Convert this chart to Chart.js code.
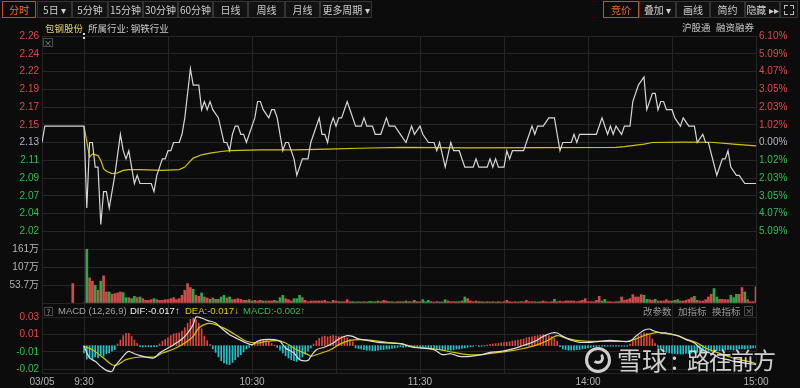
<!DOCTYPE html>
<html>
<head>
<meta charset="utf-8">
<script src="https://cdn.jsdelivr.net/npm/chart.js@4.4.1/dist/chart.umd.min.js"></script>
<style>
  html, body { margin: 0; padding: 0; background: #0c0c0c; }
  #wrap { position: relative; width: 800px; height: 388px; overflow: hidden; background: #0c0c0c;
          font-family: "Noto Sans CJK SC", "Liberation Sans", sans-serif; }
  canvas { position: absolute; left: 0; top: 0; }
  .btn { position: absolute; top: 1px; height: 17px; line-height: 15px; box-sizing: border-box;
         border: 1px solid #343434; background: #121212; color: #cfcfcf; font-size: 10px; text-align: center; }
  .btn.on { border-color: #c4531e; color: #ea6a2c; background: #0c0c0c; }
  .t { position: absolute; font-size: 9.5px; line-height: 12px; white-space: nowrap; }
  .box { position: absolute; box-sizing: border-box; border: 1px solid #4a4a4a; color: #9a9a9a;
         font-size: 8px; line-height: 7px; text-align: center; }
</style>
</head>
<body>
<div id="wrap">
  <canvas id="price-chart" width="800" height="388"></canvas>
  <canvas id="volume-chart" width="800" height="388"></canvas>
  <canvas id="macd-chart" width="800" height="388"></canvas>

  <!-- toolbar -->
  <div class="btn on" style="left:2px;width:34px">分时</div>
  <div class="btn" style="left:37px;width:35px">5日 ▾</div>
  <div class="btn" style="left:72px;width:36px">5分钟</div>
  <div class="btn" style="left:108px;width:35px">15分钟</div>
  <div class="btn" style="left:143px;width:35px">30分钟</div>
  <div class="btn" style="left:178px;width:35px">60分钟</div>
  <div class="btn" style="left:213px;width:35px">日线</div>
  <div class="btn" style="left:248px;width:37px">周线</div>
  <div class="btn" style="left:285px;width:35px">月线</div>
  <div class="btn" style="left:320px;width:52px">更多周期 ▾</div>

  <div class="btn on" style="left:603px;width:36px">竞价</div>
  <div class="btn" style="left:639px;width:37px">叠加 ▾</div>
  <div class="btn" style="left:676px;width:34px">画线</div>
  <div class="btn" style="left:710px;width:35px">简约</div>
  <div class="btn" style="left:745px;width:35px">隐藏 ▸▸</div>
  <div class="btn" style="left:780px;width:18px"></div>
  <div style="position:absolute;left:784px;top:5px;width:3px;height:3px;border-left:1px solid #bbb;border-top:1px solid #bbb"></div>
  <div style="position:absolute;left:790px;top:5px;width:3px;height:3px;border-right:1px solid #bbb;border-top:1px solid #bbb"></div>
  <div style="position:absolute;left:784px;top:11px;width:3px;height:3px;border-left:1px solid #bbb;border-bottom:1px solid #bbb"></div>
  <div style="position:absolute;left:790px;top:11px;width:3px;height:3px;border-right:1px solid #bbb;border-bottom:1px solid #bbb"></div>

  <!-- header row -->
  <div class="t" style="left:45px;top:22px;color:#e2d46a">包钢股份</div>
  <div class="t" style="left:88px;top:22px;color:#c8c8c8">所属行业: 钢铁行业</div>
  <div class="t" style="left:682px;top:21px;color:#c8c8c8">沪股通</div>
  <div class="t" style="left:716px;top:21px;color:#c8c8c8">融资融券</div>
  <div class="box" style="left:43px;top:38px;width:10px;height:9px">×</div>
  <div style="position:absolute;left:83px;top:33px;width:1px;height:6px;border-left:2px dotted #dcdcdc"></div>

  <!-- MACD header -->
  <div class="box" style="left:44px;top:307px;width:9px;height:9px">?</div>
  <div class="t" style="left:58px;top:305px;color:#a4a4a4;font-family:'Liberation Sans'">MACD (12,26,9)</div>
  <div class="t" style="left:130px;top:305px;color:#f0f0f0;font-family:'Liberation Sans'">DIF:-0.017↑</div>
  <div class="t" style="left:185px;top:305px;color:#e0d000;font-family:'Liberation Sans'">DEA:-0.017↓</div>
  <div class="t" style="left:243px;top:305px;color:#2fbf50;font-family:'Liberation Sans'">MACD:-0.002↑</div>
  <div class="t" style="left:643px;top:305px;color:#9a9a9a">改参数</div>
  <div class="t" style="left:678px;top:305px;color:#9a9a9a">加指标</div>
  <div class="t" style="left:712px;top:305px;color:#9a9a9a">换指标</div>
  <div class="box" style="left:744px;top:306px;width:9px;height:10px">×</div>

  <!-- watermark -->
  <div style="position:absolute;left:585px;top:347px;width:26px;height:26px;border-radius:50%;box-sizing:border-box;border:3px solid rgba(228,228,228,0.9)"></div>
  <div style="position:absolute;left:592px;top:352px;width:12px;height:12px;border-radius:50%;box-sizing:border-box;border:3px solid rgba(228,228,228,0.9);border-top-color:transparent;border-left-color:transparent"></div>
  <div class="t" style="left:617px;top:344px;font-size:25px;line-height:30px;color:rgba(230,230,230,0.9)">雪球</div>
  <div class="t" style="left:671px;top:344px;font-size:25px;line-height:30px;color:rgba(230,230,230,0.9)">:</div>
  <div class="t" style="left:687px;top:344px;font-size:23px;line-height:30px;letter-spacing:-1px;color:rgba(230,230,230,0.9)">路往前方</div>
</div>

<script>
// ---- data (x = trading minutes since 9:30, auction before 0) ----
const preClose = 2.13;
const pctStep = 0.061 / 6;

const priceLabels = ['2.26', '2.24', '2.22', '2.19', '2.17', '2.15', '2.13', '2.11', '2.09', '2.07', '2.04', '2.02'];
const pctLabels = ['6.10%', '5.09%', '4.07%', '3.05%', '2.03%', '1.02%', '0.00%', '1.02%', '2.03%', '3.05%', '4.07%', '5.09%'];
const volTickLabels = ['161万', '107万', '53.7万'];
const volMax = 161;
const macdTickValues = [-0.0210, -0.0055, 0.0100, 0.0255];
const macdTickLabels = ['-0.02', '-0.01', '0.01', '0.03'];
const timeTicks = [-15, 0, 60, 120, 180, 240];
const timeLabels = ['03/05', '9:30', '10:30', '11:30', '14:00', '15:00'];
const gridMinutes = [-15, 0, 30, 60, 90, 120, 150, 180, 210, 240];

const priceTimes = [
  -15, -14, 0, 1, 2, 3, 4, 5, 6, 7,
  8, 9, 11, 13, 14, 15, 16, 17, 18, 19,
  20, 24, 25, 26, 27, 28, 29, 30, 31, 32,
  34, 35, 36, 37, 38, 39, 41, 42, 43, 44,
  45, 46, 48, 50, 51, 52, 53, 54, 55, 56,
  57, 58, 59, 61, 62, 63, 64, 66, 67, 68,
  69, 71, 72, 73, 75, 76, 77, 78, 80, 81,
  84, 85, 86, 87, 88, 89, 90, 91, 92, 94,
  95, 97, 99, 100, 101, 103, 104, 106, 108, 109,
  111, 113, 115, 117, 118, 120, 121, 123, 125, 126,
  127, 129, 131, 132, 134, 136, 139, 140, 141, 144,
  145, 146, 147, 148, 150, 151, 152, 153, 157, 159,
  160, 161, 162, 164, 166, 168, 170, 171, 174, 175,
  176, 177, 183, 185, 187, 188, 189, 190, 192, 193,
  195, 196, 198, 200, 201, 203, 204, 205, 206, 207,
  208, 210, 211, 213, 214, 216, 218, 219, 221, 222,
  223, 226, 228, 229, 230, 231, 233, 234, 236, 240
];
const priceValues = [
  2.13, 2.15, 2.15, 2.05, 2.13, 2.13, 2.10, 2.10, 2.03, 2.07,
  2.07, 2.05, 2.09, 2.14, 2.12, 2.11, 2.12, 2.10, 2.08, 2.09,
  2.08, 2.08, 2.07, 2.09, 2.10, 2.11, 2.11, 2.12, 2.12, 2.13,
  2.13, 2.14, 2.16, 2.19, 2.22, 2.20, 2.20, 2.17, 2.18, 2.17,
  2.18, 2.17, 2.16, 2.13, 2.13, 2.12, 2.14, 2.15, 2.15, 2.14,
  2.14, 2.13, 2.14, 2.16, 2.18, 2.18, 2.17, 2.16, 2.17, 2.17,
  2.16, 2.12, 2.13, 2.13, 2.11, 2.09, 2.10, 2.11, 2.11, 2.13,
  2.16, 2.14, 2.14, 2.13, 2.15, 2.16, 2.15, 2.16, 2.16, 2.18,
  2.17, 2.15, 2.15, 2.16, 2.15, 2.15, 2.14, 2.14, 2.16, 2.15,
  2.15, 2.14, 2.13, 2.15, 2.14, 2.15, 2.14, 2.13, 2.13, 2.12,
  2.13, 2.10, 2.13, 2.12, 2.12, 2.10, 2.10, 2.11, 2.10, 2.10,
  2.11, 2.10, 2.11, 2.10, 2.10, 2.12, 2.11, 2.12, 2.12, 2.14,
  2.15, 2.14, 2.15, 2.15, 2.16, 2.16, 2.12, 2.13, 2.13, 2.14,
  2.13, 2.14, 2.14, 2.16, 2.14, 2.15, 2.14, 2.15, 2.14, 2.15,
  2.15, 2.18, 2.20, 2.21, 2.17, 2.19, 2.19, 2.17, 2.18, 2.18,
  2.17, 2.17, 2.16, 2.15, 2.16, 2.15, 2.15, 2.13, 2.14, 2.13,
  2.13, 2.09, 2.11, 2.11, 2.12, 2.10, 2.09, 2.09, 2.08, 2.08
];

const avgTimes = [0, 2, 3, 5, 6, 7, 8, 10, 12, 14, 16, 20, 28, 34, 36, 37, 39, 42, 45, 49,
  52, 63, 75, 87, 98, 114, 137, 190, 193, 200, 203, 214, 224, 232, 240];
const avgValues = [2.150, 2.112, 2.116, 2.114, 2.108, 2.098, 2.095, 2.092, 2.093, 2.096,
  2.097, 2.097, 2.096, 2.097, 2.100, 2.104, 2.111, 2.115, 2.117, 2.119,
  2.120, 2.121, 2.121, 2.122, 2.123, 2.124, 2.1235, 2.124, 2.125, 2.128,
  2.130, 2.1305, 2.1303, 2.128, 2.126];

// volume in 万 per minute 0..240, R = up bar, G = down bar
const auctionVolTime = -4;
const auctionVol = 58;
const volumes = [
  0, 161, 75, 65, 53, 38, 65, 81, 33, 33,
  26, 28, 30, 33, 31, 16, 16, 13, 20, 16,
  18, 13, 8, 8, 10, 13, 10, 8, 8, 10,
  10, 13, 16, 10, 13, 23, 38, 58, 46, 41,
  23, 20, 30, 18, 15, 11, 15, 11, 11, 18,
  23, 15, 18, 10, 11, 13, 11, 8, 8, 10,
  6, 8, 6, 8, 6, 6, 6, 6, 8, 6,
  16, 23, 13, 10, 6, 13, 13, 23, 16, 8,
  4, 6, 6, 6, 6, 6, 8, 4, 3, 8,
  6, 4, 4, 4, 10, 4, 4, 3, 4, 3,
  4, 3, 5, 4, 4, 6, 4, 8, 6, 4,
  4, 3, 4, 4, 4, 6, 4, 4, 8, 4,
  4, 10, 4, 8, 4, 3, 4, 3, 3, 10,
  6, 4, 4, 4, 4, 6, 18, 13, 6, 4,
  6, 4, 4, 3, 4, 3, 4, 3, 4, 3,
  4, 8, 4, 3, 4, 3, 4, 4, 8, 4,
  4, 4, 3, 4, 6, 4, 3, 4, 11, 4,
  6, 4, 6, 6, 6, 6, 4, 6, 8, 13,
  4, 4, 4, 8, 20, 6, 11, 4, 4, 3,
  4, 4, 18, 8, 10, 13, 25, 18, 18, 25,
  23, 11, 10, 8, 11, 6, 6, 6, 10, 6,
  6, 8, 10, 6, 6, 8, 11, 16, 20, 8,
  6, 6, 10, 18, 26, 43, 18, 11, 11, 10,
  10, 23, 16, 26, 26, 46, 33, 10, 4, 4,
  48
];
const volumeSides = (
  'RGRRGRGRRG' + 'RRRRGGRGGR' + 'GRRRRGRRRR' + 'RRRRRRRRRG' + 'RRGRRGRGRG' +
  'GRGRRRRRGR' + 'GRRRGRRRGR' + 'GGRRRGGGRR' + 'RRRRRRRRGR' + 'RGRRRRGGRG' +
  'RGGGRGRRRG' + 'RGRGRGRRGR' + 'RGGGRRRGRG' + 'RRRGRGGRRR' + 'RGRGRGRRGR' +
  'RRRRRGRRRR' + 'RRGRRRRRGR' + 'RRRRRRRRRR' + 'RRRRRGGRRR' + 'RGRRRRRRRR' +
  'GGRRGRRRRR' + 'GRGRRRRRGR' + 'RRRRRGGRRR' + 'RGGGRRGRRR' + 'R'
).split('');

// MACD histogram per minute 0..240
const macdHist = [
  -0.0065, -0.0120, -0.0110, -0.0125, -0.0100, -0.0110, -0.0085, -0.0095, -0.0070, -0.0065,
  -0.0050, -0.0035, 0.0015, 0.0050, 0.0090, 0.0110, 0.0110, 0.0085, 0.0050, 0.0020,
  -0.0010, -0.0012, -0.0010, -0.0010, -0.0012, -0.0010, -0.0008, 0.0015, 0.0040, 0.0055,
  0.0070, 0.0090, 0.0105, 0.0110, 0.0115, 0.0130, 0.0160, 0.0200, 0.0235, 0.0245,
  0.0230, 0.0200, 0.0150, 0.0085, 0.0045, 0.0010, -0.0030, -0.0060, -0.0100, -0.0135,
  -0.0155, -0.0165, -0.0170, -0.0150, -0.0125, -0.0100, -0.0080, -0.0055, -0.0030, -0.0015,
  0.0010, 0.0030, 0.0045, 0.0050, 0.0050, 0.0045, 0.0035, 0.0020, 0.0005, -0.0015,
  -0.0040, -0.0065, -0.0090, -0.0110, -0.0125, -0.0135, -0.0140, -0.0125, -0.0100, -0.0075,
  -0.0050, -0.0020, 0.0015, 0.0045, 0.0065, 0.0080, 0.0085, 0.0080, 0.0085, 0.0090,
  0.0085, 0.0080, 0.0085, 0.0080, 0.0070, 0.0055, 0.0035, -0.0020, -0.0025, -0.0030,
  -0.0035, -0.0040, -0.0040, -0.0045, -0.0045, -0.0040, -0.0035, -0.0035, -0.0030, -0.0030,
  -0.0025, -0.0020, -0.0015, -0.0010, -0.0015, -0.0012, -0.0010, -0.0008, -0.0008, -0.0008,
  -0.0008, -0.0008, -0.0010, -0.0025, -0.0030, -0.0030, -0.0035, -0.0035, -0.0040, -0.0040,
  -0.0040, -0.0040, -0.0035, -0.0030, -0.0030, -0.0025, -0.0020, -0.0015, -0.0010, -0.0005,
  0.0000, -0.0008, -0.0005, -0.0003, 0.0005, 0.0010, 0.0015, 0.0018, 0.0020, 0.0025,
  0.0028, 0.0030, 0.0035, 0.0040, 0.0045, 0.0050, 0.0055, 0.0060, 0.0070, 0.0075,
  0.0080, 0.0085, 0.0090, 0.0095, 0.0100, 0.0095, 0.0090, 0.0080, 0.0065, 0.0040,
  -0.0010, -0.0030, -0.0035, -0.0040, -0.0040, -0.0040, -0.0035, -0.0035, -0.0030, -0.0025,
  -0.0020, -0.0015, -0.0010, -0.0008, -0.0005, -0.0005, -0.0005, -0.0005, -0.0005, -0.0005,
  -0.0005, -0.0005, -0.0005, -0.0005, -0.0005, 0.0015, 0.0040, 0.0070, 0.0090, 0.0105,
  0.0115, 0.0110, 0.0090, 0.0060, 0.0020, -0.0015, -0.0035, -0.0050, -0.0060, -0.0065,
  -0.0070, -0.0070, -0.0075, -0.0075, -0.0075, -0.0070, -0.0070, -0.0065, -0.0065, -0.0060,
  -0.0060, -0.0055, -0.0055, -0.0050, -0.0050, -0.0045, -0.0045, -0.0045, -0.0040, -0.0040,
  -0.0035, -0.0035, -0.0040, -0.0035, -0.0030, -0.0030, -0.0030, -0.0025, -0.0025, -0.0020,
  -0.0020
];

const difTimes = [0, 2, 4, 6, 8, 10, 11, 13, 15, 16, 18, 20, 22, 25, 27, 30, 32, 35, 37, 39,
  40, 42, 44, 47, 49, 52, 55, 58, 60, 62, 64, 68, 70, 72, 75, 77, 80, 81, 83, 86,
  89, 91, 94, 96, 98, 101, 105, 108, 113, 117, 120, 125, 128, 131, 134, 138, 142, 145, 149, 152,
  156, 161, 164, 167, 169, 171, 174, 177, 181, 184, 188, 192, 195, 197, 200, 202, 203, 206, 208, 212,
  215, 218, 220, 222, 225, 227, 230, 232, 236, 240];
const difValues = [-0.0006, -0.0110, -0.0140, -0.0185, -0.0221, -0.0229, -0.0185, -0.0125, -0.0066, -0.0051,
  -0.0072, -0.0089, -0.0101, -0.0110, -0.0066, -0.0021, 0.0009, 0.0060, 0.0113, 0.0188,
  0.0256, 0.0247, 0.0226, 0.0203, 0.0158, 0.0098, 0.0060, 0.0024, 0.0009, 0.0039,
  0.0054, 0.0054, 0.0039, -0.0021, -0.0066, -0.0125, -0.0131, -0.0095, -0.0036, -0.0012,
  0.0024, 0.0060, 0.0089, 0.0083, 0.0060, 0.0048, 0.0030, 0.0024, 0.0018, -0.0012,
  -0.0021, -0.0036, -0.0080, -0.0072, -0.0095, -0.0095, -0.0080, -0.0060, -0.0051, -0.0036,
  -0.0006, 0.0039, 0.0083, 0.0113, 0.0113, 0.0083, 0.0048, 0.0030, 0.0030, 0.0039,
  0.0048, 0.0039, 0.0039, 0.0083, 0.0137, 0.0149, 0.0137, 0.0113, 0.0113, 0.0089,
  0.0054, 0.0024, -0.0021, -0.0051, -0.0080, -0.0110, -0.0125, -0.0140, -0.0155, -0.0168];

const deaTimes = [0, 3, 7, 10, 12, 15, 20, 25, 28, 32, 36, 39, 41, 44, 47, 51, 55, 58, 62, 65,
  69, 72, 76, 80, 81, 84, 88, 91, 95, 99, 103, 108, 113, 118, 122, 127, 132, 137, 142, 146,
  151, 156, 161, 165, 169, 172, 176, 180, 184, 189, 194, 197, 201, 205, 208, 212, 215, 219, 222, 226,
  230, 233, 237, 240];
const deaValues = [-0.0006, -0.0036, -0.0110, -0.0170, -0.0170, -0.0125, -0.0101, -0.0101, -0.0066, -0.0030,
  0.0024, 0.0083, 0.0158, 0.0197, 0.0188, 0.0143, 0.0083, 0.0039, 0.0024, 0.0039,
  0.0045, 0.0024, -0.0036, -0.0080, -0.0095, -0.0072, -0.0036, 0.0009, 0.0048, 0.0054,
  0.0048, 0.0030, 0.0018, -0.0012, -0.0021, -0.0036, -0.0060, -0.0080, -0.0080, -0.0066,
  -0.0051, -0.0030, 0.0000, 0.0039, 0.0089, 0.0069, 0.0048, 0.0039, 0.0039, 0.0039,
  0.0039, 0.0060, 0.0098, 0.0119, 0.0107, 0.0089, 0.0060, 0.0024, -0.0021, -0.0060,
  -0.0095, -0.0119, -0.0140, -0.0160];

// ---- styling ----
const COLORS = {
  grid: '#252525',
  up: '#e0484a',
  down: '#2fbf50',
  flat: '#b4b6c8',
  axisText: '#b4b4b4',
  price: '#d6d6d6',
  avg: '#d0c600',
  dif: '#dedede',
  dea: '#d0c600',
  histUp: '#d9463f',
  histDown: '#1fc3cc',
  volUp: '#d24a4a',
  volDown: '#2aa84a'
};
Chart.defaults.font.family = '"Liberation Sans", "Noto Sans CJK SC", sans-serif';
Chart.defaults.font.size = 10;

const toPoints = (xs, ys) => xs.map((x, i) => ({ x: x, y: ys[i] }));
const minutes = macdHist.map((v, i) => i);

function timeAxis(withLabels) {
  return {
    type: 'linear', min: -15, max: 240, offset: false,
    grid: { color: COLORS.grid, drawTicks: false, offset: false },
    border: { display: false },
    afterBuildTicks: scale => { scale.ticks = gridMinutes.map(v => ({ value: v })); },
    afterFit: scale => { scale.height = withLabels ? 15 : 0; },
    ticks: {
      display: withLabels, autoSkip: false, maxRotation: 0, padding: 3,
      color: COLORS.axisText,
      callback: v => { const i = timeTicks.indexOf(v); return i < 0 ? '' : timeLabels[i]; }
    }
  };
}

function baseOptions(padding) {
  return {
    responsive: false, animation: false, events: [],
    layout: { padding: padding },
    plugins: { legend: { display: false }, tooltip: { enabled: false } }
  };
}

// ---- price panel ----
const priceSteps = [-6, -5, -4, -3, -2, -1, 0, 1, 2, 3, 4, 5, 6];
const priceMin = preClose * (1 - 6 * pctStep);
const priceMax = preClose * (1 + 6 * pctStep);
const stepColor = ctx => {
  const k = priceSteps[ctx.index];
  return k > 0 ? COLORS.up : (k < 0 ? COLORS.down : COLORS.flat);
};

new Chart(document.getElementById('price-chart'), {
  type: 'line',
  data: {
    datasets: [
      { data: toPoints(priceTimes, priceValues), borderColor: COLORS.price, borderWidth: 1.2,
        pointRadius: 0, tension: 0, order: 0 },
      { data: toPoints(avgTimes, avgValues), borderColor: COLORS.avg, borderWidth: 1.2,
        pointRadius: 0, tension: 0, order: 1 }
    ]
  },
  options: Object.assign(baseOptions({ top: 36, bottom: 139 }), {
    scales: {
      x: timeAxis(false),
      y: {
        position: 'left', min: priceMin, max: priceMax,
        afterBuildTicks: s => { s.ticks = priceSteps.map(k => ({ value: preClose * (1 + k * pctStep) })); },
        afterFit: s => { s.width = 42; },
        grid: { color: COLORS.grid, drawTicks: false },
        border: { display: true, color: COLORS.grid },
        ticks: { autoSkip: false, padding: 3, color: stepColor,
                 callback: (v, i) => priceLabels[12 - i] || '' }
      },
      yPct: {
        position: 'right', min: priceMin, max: priceMax,
        afterBuildTicks: s => { s.ticks = priceSteps.map(k => ({ value: preClose * (1 + k * pctStep) })); },
        afterFit: s => { s.width = 44; },
        grid: { display: false, drawTicks: false },
        border: { display: true, color: COLORS.grid },
        ticks: { autoSkip: false, padding: 3, color: stepColor,
                 callback: (v, i) => pctLabels[12 - i] || '' }
      }
    }
  })
});

// ---- volume panel ----
const volBars = minutes.map(m => ({ x: m, y: volumes[m] }));
volBars.unshift({ x: auctionVolTime, y: auctionVol });
const volColors = volBars.map((p, i) => i === 0 ? COLORS.volUp
  : (volumeSides[i - 1] === 'R' ? COLORS.volUp : COLORS.volDown));

new Chart(document.getElementById('volume-chart'), {
  type: 'bar',
  data: { datasets: [{ data: volBars, backgroundColor: volColors, barThickness: 2 }] },
  options: Object.assign(baseOptions({ top: 249, bottom: 85, right: 44 }), {
    scales: {
      x: timeAxis(false),
      y: {
        position: 'left', min: 0, max: volMax,
        afterBuildTicks: s => { s.ticks = [0, 1, 2, 3].map(k => ({ value: volMax * k / 3 })); },
        afterFit: s => { s.width = 42; },
        grid: { color: COLORS.grid, drawTicks: false },
        border: { display: true, color: COLORS.grid },
        ticks: { autoSkip: false, padding: 3, color: COLORS.axisText,
                 callback: (v, i) => i === 0 ? '' : volTickLabels[3 - i] }
      }
    }
  })
});

// ---- MACD panel ----
const histBars = minutes.map(m => ({ x: m, y: macdHist[m] }));
const histColors = macdHist.map(v => v >= 0 ? COLORS.histUp : COLORS.histDown);

new Chart(document.getElementById('macd-chart'), {
  type: 'bar',
  data: {
    datasets: [
      { type: 'bar', data: histBars, backgroundColor: histColors, barThickness: 1, order: 2 },
      { type: 'line', data: toPoints(deaTimes, deaValues), borderColor: COLORS.dea, borderWidth: 1.2,
        pointRadius: 0, tension: 0.3, order: 1 },
      { type: 'line', data: toPoints(difTimes, difValues), borderColor: COLORS.dif, borderWidth: 1.2,
        pointRadius: 0, tension: 0.3, order: 0 }
    ]
  },
  options: Object.assign(baseOptions({ top: 304, bottom: 0, right: 44 }), {
    scales: {
      x: Object.assign(timeAxis(true), { border: { display: true, color: COLORS.grid } }),
      y: {
        position: 'left', min: -0.0244, max: 0.0372,
        afterBuildTicks: s => { s.ticks = macdTickValues.map(v => ({ value: v })); },
        afterFit: s => { s.width = 42; },
        grid: { color: COLORS.grid, drawTicks: false },
        border: { display: true, color: COLORS.grid },
        ticks: { autoSkip: false, padding: 3,
                 color: ctx => macdTickValues[ctx.index] > 0 ? COLORS.up : COLORS.down,
                 callback: (v, i) => macdTickLabels[i] }
      }
    }
  })
});
</script>
</body>
</html>
